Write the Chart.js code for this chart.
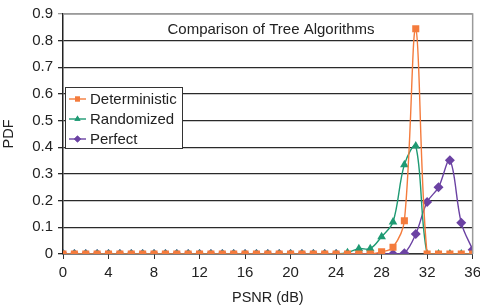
<!DOCTYPE html>
<html>
<head>
<meta charset="utf-8">
<script src="https://cdn.jsdelivr.net/npm/chart.js@4/dist/chart.umd.min.js"></script>
<style>
  html, body { margin: 0; padding: 0; background: #fff; overflow: hidden; }
  #wrap { position: relative; width: 480px; height: 307px; overflow: hidden; }
</style>
</head>
<body>
<div id="wrap"><canvas id="c" width="486" height="307"></canvas></div>
<script>
// ---- data ----
const psnr = Array.from({ length: 37 }, (_, i) => i);
const deterministic = [0,0,0,0,0,0,0,0,0,0,0,0,0,0,0,0,0,0,0,0,0,0,0,0,0,0,0,0,0.008,0.025,0.125,0.845,0,0,0,0,0];
const randomized    = [0,0,0,0,0,0,0,0,0,0,0,0,0,0,0,0,0,0,0,0,0,0,0,0,0,0.005,0.02,0.02,0.065,0.12,0.335,0.405,0,0,0,0,0];
const perfect       = [0,0,0,0,0,0,0,0,0,0,0,0,0,0,0,0,0,0,0,0,0,0,0,0,0,0,0,0,0,0,0.003,0.075,0.195,0.25,0.352,0.117,0.016];
const xTicks = [0,4,8,12,16,20,24,28,32,36];
const yTicks = [0,0.1,0.2,0.3,0.4,0.5,0.6,0.7,0.8,0.9];
const seriesNames = ["Deterministic", "Randomized", "Perfect"];
const chartTitle = "Comparison of Tree Algorithms";

const FONT = "'Liberation Sans', Arial, sans-serif";
const colors = ["#f47b3c", "#1e9a73", "#6b42a3"];
const styles = ["rect", "triangle", "rectRot"];

function mk(i, data) {
  return {
    label: seriesNames[i],
    data: psnr.map((x, k) => ({ x, y: data[k] })),
    borderColor: colors[i],
    backgroundColor: colors[i],
    pointStyle: styles[i],
    pointRadius: 5,
    pointBorderWidth: 0,
    borderWidth: 1.4,
    tension: 0.35,
  };
}

// legend + title + plot frame drawn inside the plot area
const overlay = {
  id: "overlay",
  afterDraw(chart) {
    const ctx = chart.ctx;
    const a = chart.chartArea;
    ctx.save();
    // top/right frame
    ctx.strokeStyle = "#9a9a9a";
    ctx.lineWidth = 1.5;
    ctx.beginPath();
    ctx.moveTo(a.left, a.top);
    ctx.lineTo(a.right, a.top);
    ctx.lineTo(a.right, a.bottom);
    ctx.stroke();

    // title
    ctx.fillStyle = "#222";
    ctx.font = "15px " + FONT;
    ctx.textAlign = "center";
    ctx.textBaseline = "middle";
    ctx.fillText(chartTitle, 271, 30);

    // legend box
    ctx.fillStyle = "#fff";
    ctx.fillRect(65, 87, 117, 61);
    ctx.strokeStyle = "#333";
    ctx.lineWidth = 1;
    ctx.strokeRect(65.5, 87.5, 117, 61);
    ctx.font = "15px " + FONT;
    ctx.textAlign = "left";
    chart.data.datasets.forEach((ds, i) => {
      const y = 99 + i * 20;
      ctx.strokeStyle = ds.borderColor;
      ctx.lineWidth = 1.4;
      ctx.beginPath();
      ctx.moveTo(69, y);
      ctx.lineTo(86, y);
      ctx.stroke();
      ctx.fillStyle = ds.borderColor;
      Chart.helpers.drawPoint(ctx, { pointStyle: ds.pointStyle, radius: 3.5, rotation: 0, borderWidth: 0 }, 77.5, y);
      ctx.fill();
      ctx.fillStyle = "#222";
      ctx.fillText(ds.label, 90, y + 1);
    });
    ctx.restore();
  }
};

new Chart(document.getElementById("c"), {
  type: "line",
  data: { datasets: [mk(0, deterministic), mk(1, randomized), mk(2, perfect)] },
  options: {
    responsive: false,
    animation: false,
    layout: { padding: { top: 14, right: 0, left: 0, bottom: 0 } },
    plugins: { legend: { display: false }, tooltip: { enabled: false } },
    scales: {
      x: {
        type: "linear",
        min: 0, max: 36,
        afterBuildTicks: (s) => { s.ticks = xTicks.map(v => ({ value: v })); },
        afterFit: (s) => { s.height = 53; },
        ticks: { color: "#222", font: { family: FONT, size: 15 }, padding: 5, maxRotation: 0 },
        grid: { drawOnChartArea: false, drawTicks: true, tickLength: 5, color: "#333" },
        border: { color: "#333", width: 1.5 },
        title: { display: true, text: "PSNR (dB)", color: "#222", font: { family: FONT, size: 14.5 }, padding: { top: 0, bottom: 0 } }
      },
      y: {
        min: 0, max: 0.9,
        afterBuildTicks: (s) => { s.ticks = yTicks.map(v => ({ value: v })); },
        afterFit: (s) => { s.width = 63; },
        ticks: { color: "#222", font: { family: FONT, size: 15 }, padding: 5, callback: (v) => String(Math.round(v * 10) / 10) },
        grid: { color: (c) => c.tick.value === 0.9 ? "#9a9a9a" : "#2a2a2a", lineWidth: 1.3, tickLength: 5 },
        border: { color: "#222", width: 1.5 },
        title: { display: true, text: "PDF", color: "#222", font: { family: FONT, size: 14.5 }, padding: { top: 0, bottom: 2 } }
      }
    }
  },
  plugins: [overlay]
});
</script>
</body>
</html>
